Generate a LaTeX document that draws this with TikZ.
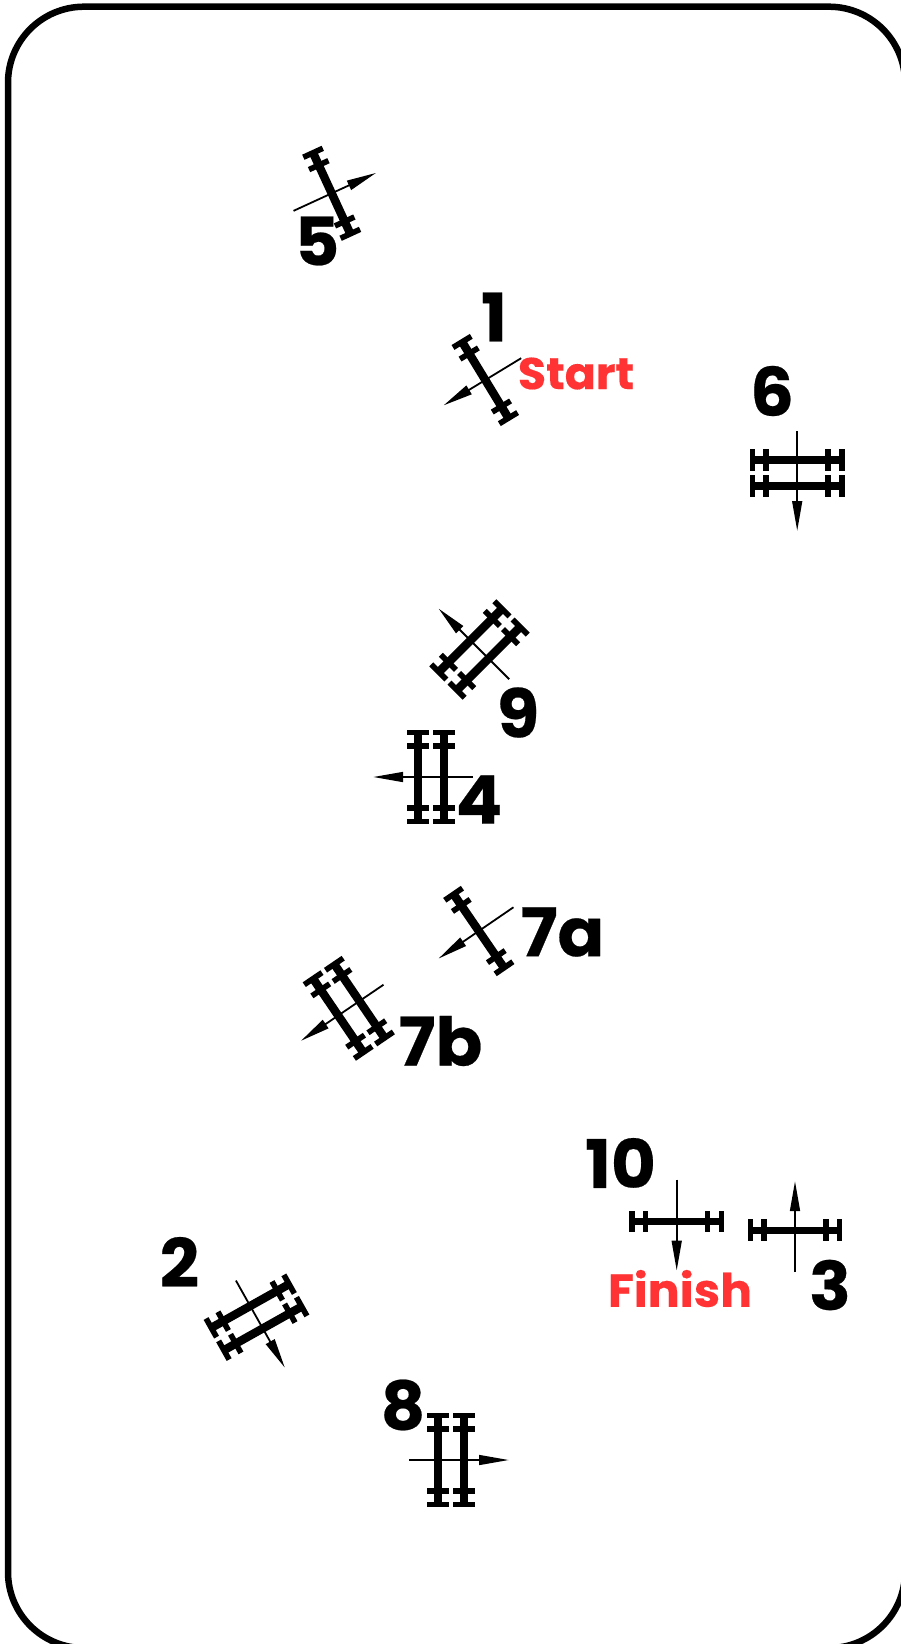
\documentclass[tikz,border=0pt]{standalone}
\usepackage{fontspec}
\setmainfont{Poppins}[FakeStretch=1.03,BoldFeatures={FakeBold=0.35}]
\definecolor{labelred}{HTML}{FF3333}
\tikzset{
  x=1pt,y=1pt,
  railbar/.style={line width=8.4pt,line cap=butt},
  railtick/.style={line width=5.6pt,line cap=butt},
  thinbar/.style={railbar/.style={line width=7pt,line cap=butt},railtick/.style={line width=5.4pt,line cap=butt}},
  dirline/.style={line width=1.8pt},
  dirhead/.style={fill=black},
  numlabel/.style={inner sep=0pt,font=\bfseries\fontsize{67}{67}\selectfont,text=black},
  redlabel/.style={inner sep=0pt,font=\bfseries\fontsize{45}{45}\selectfont,text=labelred},
  frameline/.style={line width=6.5pt,rounded corners=76pt}
}
% one rail crossing drawn at local x = #1
\newcommand{\railset}[1]{%
  \draw[railbar] (#1,-45) -- (#1,45);
  \foreach \s in {-44.6,-31,31,44.6}
    \draw[railtick] (#1-10.7,\s) -- (#1+10.7,\s);
}
% line and filled head along local x, from tail to tip
\newcommand{\dirarrow}[2]{%
  \coordinate (#1tail) at (-42,0);
  \coordinate (#1tip) at (#2,0);
  \draw[dirline] (#1tail) -- (#2-15,0);
  \fill[dirhead] (#1tip) -- (#2-29.5,5.2) -- (#2-29.5,-5.2) -- cycle;
}
% [scope options], #2 name, #3 x, #4 y (pixels, y down), #5 direction of travel
\newcommand{\singlegate}[5][]{%
  \begin{scope}[shift={(#3,-#4)},rotate=#5,#1]
    \railset{0}
    \dirarrow{#2}{48.5}
  \end{scope}}
\newcommand{\doublegate}[4]{%
  \begin{scope}[shift={(#2,-#3)},rotate=#4]
    \railset{-12.85}
    \railset{12.85}
    \dirarrow{#1}{57.5}
  \end{scope}}
\begin{document}
\begin{tikzpicture}
  \useasboundingbox (0,0) rectangle (901,-1644);
  \clip (0,0) rectangle (901,-1644);
  \fill[white] (0,0) rectangle (901,-1644);
  \draw[frameline] (8,-6.7) rectangle (905,-1648);

  \singlegate{g5}{331.7}{193.3}{24.7}
  \singlegate{g1}{485.3}{380}{211.3}
  \doublegate{g6}{797.2}{473}{270}
  \doublegate{g9}{479.5}{649.5}{135}
  \doublegate{g4}{431}{777}{180}
  \singlegate{g7a}{478.8}{931}{214.4}
  \doublegate{g7b}{348.8}{1008.3}{214.2}
  \singlegate[thinbar]{g10}{676.7}{1221.7}{270}
  \singlegate[thinbar]{g3}{795}{1230}{90}
  \doublegate{g2}{256.5}{1317.2}{299.3}
  \doublegate{g8}{451}{1460}{0}

  \node[numlabel] (n5) at (317,-241) {5};
  \node[numlabel] (n1) at (494,-317) {1};
  \node[numlabel] (n6) at (772,-391) {6};
  \node[numlabel] (n9) at (518,-712.5) {9};
  \node[numlabel] (n4) at (479,-799.5) {4};
  \node[numlabel] (n7a) at (562.5,-932) {7a};
  \node[numlabel] (n7b) at (440.5,-1041) {7b};
  \node[numlabel] (n10) at (620.5,-1163) {10};
  \node[numlabel] (n3) at (830,-1285) {3};
  \node[numlabel] (n2) at (179.4,-1262) {2};
  \node[numlabel] (n8) at (403,-1405) {8};
  \node[redlabel,font=\bfseries\fontsize{44.5}{44.5}\selectfont] (start) at (576,-373.5) {Start};
  \node[redlabel,font=\bfseries\fontsize{46}{46}\selectfont] (finish) at (680,-1288.5) {Finish};
\end{tikzpicture}
\end{document}
